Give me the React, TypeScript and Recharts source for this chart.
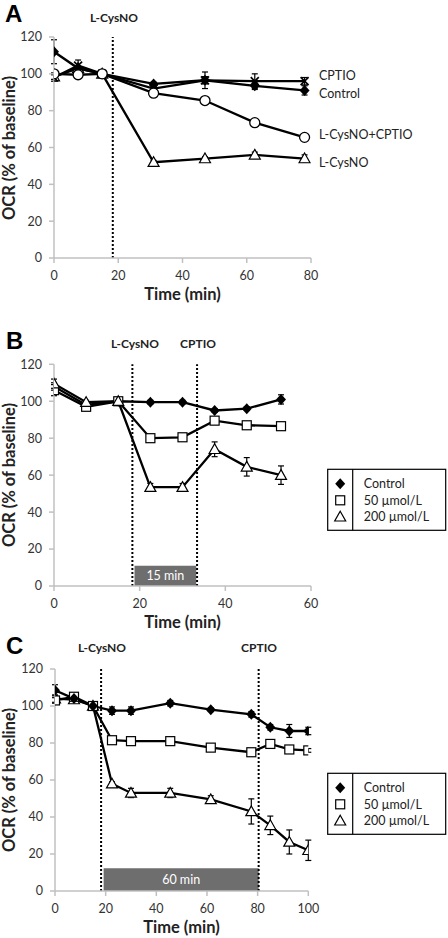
import React from 'react';
import { LineChart, Line, XAxis, YAxis, ErrorBar, ReferenceLine, ReferenceArea } from 'recharts';

const FONT = 'Lato, "Open Sans", sans-serif';

// ---------- Panel A ----------
const timesA = [0, 7.5, 15, 31, 47, 62.5, 78];
const controlA = [112, 103, 100, 94.5, 96.5, 93.5, 91];
const controlAErr = [6.5, 1, 0.5, 1, 2, 2, 2.5];
const cptioA = [98, 104.5, 100, 92, 96.5, 96, 96];
const cptioAErr = [2, 3, 0.5, 1, 4.5, 4, 2];
const cysCptioA = [100, 99.5, 100, 89.5, 85.5, 73.5, 65.5];
const cysCptioAErr = [0.5, 0.5, 0.5, 1, 1, 1, 1];
const cysA = [98.5, 103, 100, 52, 54, 56, 54];
const cysAErr = [1.5, 1, 0.5, 1, 1, 1.5, 2];

// ---------- Panel B ----------
const timesB = [0, 7.5, 15, 22.5, 30, 37.5, 45, 53];
const controlB = [108, 98, 100, 99.5, 99.5, 95, 96, 101];
const controlBErr = [2, 1, 0.5, 1, 1, 1, 1, 2.5];
const low50B = [106, 97, 100, 80, 80.5, 89.5, 87, 86.5];
const low50BErr = [3, 1, 0.5, 1, 1, 1, 1, 1];
const high200B = [109.5, 99.5, 100, 53.5, 53.5, 74, 64.5, 60];
const high200BErr = [2.5, 1, 0.5, 2, 2, 4, 5, 5];

// ---------- Panel C ----------
const timesC = [0, 7.5, 15, 22.5, 30, 45.5, 61.5, 77.5, 85, 92.5, 100];
const controlC = [108.5, 104, 100, 97.5, 97.5, 101.5, 98, 95.5, 88.5, 86.5, 86.5];
const controlCErr = [3, 1, 0.5, 2, 2, 1.5, 1, 1.5, 1.5, 3.5, 2];
const low50C = [103, 105, 100, 81.5, 81, 81, 77.5, 75, 79.5, 76.5, 76];
const low50CErr = [1.5, 1, 0.5, 1, 1, 1, 1, 1, 1, 1, 1];
const high200C = [104, 103.5, 100, 58, 53, 53, 49.5, 43, 35.5, 26.5, 22];
const high200CErr = [2, 1, 0.5, 1, 2.5, 2.5, 2, 6.8, 5, 6.5, 5.5];

const yTicks = [0, 20, 40, 60, 80, 100, 120];
const xTicksA = [0, 20, 40, 60, 80];
const xTicksB = [0, 20, 40, 60];
const xTicksC = [0, 20, 40, 60, 80, 100];

const legendNames = ['Control', '50 \u00b5mol/L', '200 \u00b5mol/L'];
const legendShapes = ['diamond', 'square', 'triangle'];

function buildRows(times: number[], series: Record<string, number[]>) {
  return times.map((t, i) => {
    const row: any = { t };
    for (const k of Object.keys(series)) row[k] = series[k][i];
    return row;
  });
}

const dataA = buildRows(timesA, {
  control: controlA, controlErr: controlAErr,
  cptio: cptioA, cptioErr: cptioAErr,
  cysCptio: cysCptioA, cysCptioErr: cysCptioAErr,
  cys: cysA, cysErr: cysAErr,
});
const dataB = buildRows(timesB, {
  control: controlB, controlErr: controlBErr,
  low: low50B, lowErr: low50BErr,
  high: high200B, highErr: high200BErr,
});
const dataC = buildRows(timesC, {
  control: controlC, controlErr: controlCErr,
  low: low50C, lowErr: low50CErr,
  high: high200C, highErr: high200CErr,
});

function Marker({ shape, x, y }: { shape: string; x: number; y: number }) {
  if (shape === 'diamond') {
    return <path d={`M${x},${y - 5.5}L${x + 5},${y}L${x},${y + 5.5}L${x - 5},${y}Z`} fill="#000" />;
  }
  if (shape === 'square') {
    return <rect x={x - 4.5} y={y - 4.5} width={9} height={9} fill="#fff" stroke="#000" strokeWidth={1.2} />;
  }
  if (shape === 'circle') {
    return <circle cx={x} cy={y} r={5} fill="#fff" stroke="#000" strokeWidth={1.3} />;
  }
  if (shape === 'triangle') {
    return <path d={`M${x},${y - 5.5}L${x + 5.5},${y + 4.2}L${x - 5.5},${y + 4.2}Z`} fill="#fff" stroke="#000" strokeWidth={1.2} />;
  }
  return (
    <g stroke="#000" strokeWidth={1.7}>
      <line x1={x - 4} y1={y - 4} x2={x + 4} y2={y + 4} />
      <line x1={x - 4} y1={y + 4} x2={x + 4} y2={y - 4} />
    </g>
  );
}

function makeDot(shape: string) {
  return (props: any) => {
    const { cx, cy, index } = props;
    if (cx == null || cy == null) return <g key={`d${index}`} />;
    return <g key={`d${index}`}><Marker shape={shape} x={cx} y={cy} /></g>;
  };
}

const axisLine = { stroke: '#c0c0c0', strokeWidth: 1.5 };
const tickStyle = { fontFamily: FONT, fontSize: 12.5, fill: '#333' };

function series(key: string, shape: string) {
  return (
    <Line
      key={key}
      type="linear"
      dataKey={key}
      stroke="#000"
      strokeWidth={2.3}
      dot={makeDot(shape)}
      activeDot={false}
      isAnimationActive={false}
    >
      <ErrorBar dataKey={`${key}Err`} width={3} stroke="#000" strokeWidth={1.2} direction="y" />
    </Line>
  );
}

function xAxis(max: number, ticks: number[]) {
  return (
    <XAxis
      type="number"
      dataKey="t"
      domain={[0, max]}
      ticks={ticks}
      axisLine={axisLine}
      tickLine={axisLine}
      tickSize={5}
      tickMargin={8}
      tick={tickStyle}
      height={30}
      allowDataOverflow
    />
  );
}

function yAxis() {
  return (
    <YAxis
      type="number"
      domain={[0, 120]}
      ticks={yTicks}
      axisLine={axisLine}
      tickLine={axisLine}
      tickSize={5}
      tickMargin={7}
      tick={tickStyle}
      width={40}
      allowDataOverflow
    />
  );
}

function LegendBox({ x, y }: { x: number; y: number }) {
  const w = 118;
  const h = 61;
  const div = 25;
  const rows = [14.5, 31, 47.5];
  return (
    <g>
      <rect x={x} y={y} width={w} height={h} fill="#fff" stroke="#000" strokeWidth={1.2} />
      <line x1={x + div} y1={y} x2={x + div} y2={y + h} stroke="#000" strokeWidth={1.2} />
      {legendNames.map((name, i) => (
        <g key={name}>
          <Marker shape={legendShapes[i]} x={x + 12.5} y={y + rows[i]} />
          <text x={x + 36} y={y + rows[i] + 4.5} fontFamily={FONT} fontSize={12.5} fill="#222">{name}</text>
        </g>
      ))}
    </g>
  );
}

const boldText = { fontFamily: FONT, fontWeight: 700, fill: '#222' } as const;
const dotted = { stroke: '#000', strokeWidth: 2, strokeDasharray: '2 2' };

export default function App() {
  return (
    <div style={{ position: 'absolute', left: 0, top: 0, width: 448, height: 938, background: '#fff' }}>
      <div style={{ position: 'absolute', left: 0, top: 0 }}>
        <LineChart width={448} height={310} data={dataA} margin={{ top: 37, right: 137, left: 14, bottom: 22 }}>
          {xAxis(80, xTicksA)}
          {yAxis()}
          <ReferenceLine x={18.3} {...dotted} />
          {series('cys', 'triangle')}
          {series('cptio', 'x')}
          {series('control', 'diamond')}
          {series('cysCptio', 'circle')}
        </LineChart>
      </div>
      <div style={{ position: 'absolute', left: 0, top: 310 }}>
        <LineChart width={448} height={320} data={dataB} margin={{ top: 54.3, right: 137, left: 14, bottom: 14 }}>
          {xAxis(60, xTicksB)}
          {yAxis()}
          <ReferenceArea
            x1={18.8}
            x2={33.2}
            y1={0}
            y2={11}
            fill="#6e6e6e"
            fillOpacity={1}
            stroke="none"
            label={{ value: '15 min', position: 'center', fill: '#fff', fontFamily: FONT, fontSize: 12.5 }}
          />
          <ReferenceLine x={18.3} {...dotted} />
          <ReferenceLine x={33.4} {...dotted} />
          {series('control', 'diamond')}
          {series('low', 'square')}
          {series('high', 'triangle')}
        </LineChart>
      </div>
      <div style={{ position: 'absolute', left: 0, top: 630 }}>
        <LineChart width={448} height={308} data={dataC} margin={{ top: 39, right: 139.7, left: 15, bottom: 17 }}>
          {xAxis(100, xTicksC)}
          {yAxis()}
          <ReferenceArea
            x1={19.2}
            x2={80.4}
            y1={0}
            y2={12.3}
            fill="#6e6e6e"
            fillOpacity={1}
            stroke="none"
            label={{ value: '60 min', position: 'center', fill: '#fff', fontFamily: FONT, fontSize: 12.5 }}
          />
          <ReferenceLine x={18.2} {...dotted} />
          <ReferenceLine x={80.4} {...dotted} />
          {series('high', 'triangle')}
          {series('low', 'square')}
          {series('control', 'diamond')}
        </LineChart>
      </div>
      <svg width={448} height={938} style={{ position: 'absolute', left: 0, top: 0, pointerEvents: 'none' }}>
        <text x={5} y={22} fontFamily="'Liberation Sans', Arial, sans-serif" fontWeight={700} fontSize={24} fill="#000">A</text>
        <text x={6} y={349} fontFamily="'Liberation Sans', Arial, sans-serif" fontWeight={700} fontSize={24} fill="#000">B</text>
        <text x={6} y={654} fontFamily="'Liberation Sans', Arial, sans-serif" fontWeight={700} fontSize={24} fill="#000">C</text>

        <text x={114} y={22} textAnchor="middle" fontSize={12} {...boldText}>L-CysNO</text>
        <text x={135} y={347.5} textAnchor="middle" fontSize={12} {...boldText}>L-CysNO</text>
        <text x={198} y={347.5} textAnchor="middle" fontSize={12} {...boldText}>CPTIO</text>
        <text x={102} y={652} textAnchor="middle" fontSize={12} {...boldText}>L-CysNO</text>
        <text x={259} y={652} textAnchor="middle" fontSize={12} {...boldText}>CPTIO</text>

        <text x={319} y={80} fontFamily={FONT} fontSize={12.5} fill="#222">CPTIO</text>
        <text x={319} y={98} fontFamily={FONT} fontSize={12.5} fill="#222">Control</text>
        <text x={319} y={138.5} fontFamily={FONT} fontSize={12.5} fill="#222">L-CysNO+CPTIO</text>
        <text x={319} y={166.5} fontFamily={FONT} fontSize={12.5} fill="#222">L-CysNO</text>

        <text x={182.5} y={300} textAnchor="middle" fontSize={16.5} {...boldText}>Time (min)</text>
        <text x={182.5} y={628} textAnchor="middle" fontSize={16.5} {...boldText}>Time (min)</text>
        <text x={181.5} y={933} textAnchor="middle" fontSize={16.5} {...boldText}>Time (min)</text>
        <text transform="rotate(-90)" x={-148} y={14.5} textAnchor="middle" fontSize={16.5} {...boldText}>OCR (% of baseline)</text>
        <text transform="rotate(-90)" x={-475} y={14.5} textAnchor="middle" fontSize={16.5} {...boldText}>OCR (% of baseline)</text>
        <text transform="rotate(-90)" x={-780} y={14.5} textAnchor="middle" fontSize={16.5} {...boldText}>OCR (% of baseline)</text>

        <LegendBox x={327.7} y={469.3} />
        <LegendBox x={327.7} y={773.3} />
      </svg>
    </div>
  );
}
